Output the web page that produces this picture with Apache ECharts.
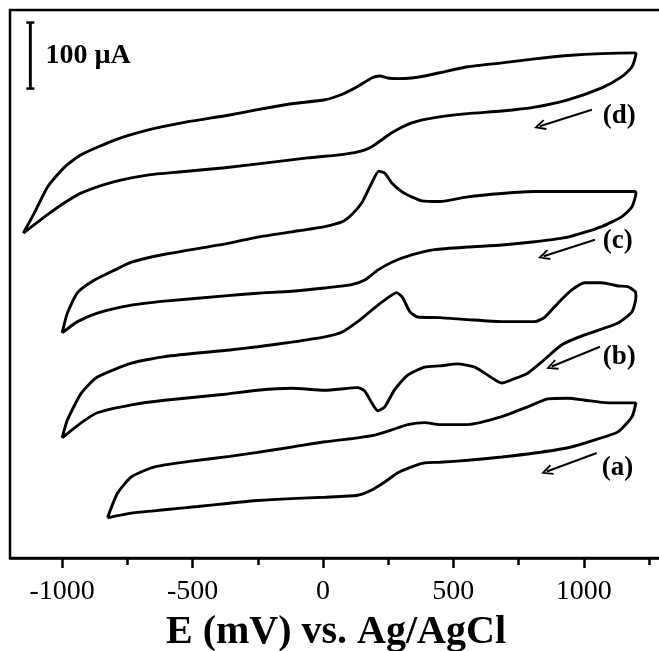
<!DOCTYPE html>
<html>
<head>
<meta charset="utf-8">
<script src="https://cdn.jsdelivr.net/npm/echarts@6/dist/echarts.min.js"></script>
<style>html,body{margin:0;padding:0;background:#fff;}#c{width:659px;height:651px;}</style>
</head>
<body>
<div id="c"></div>
<script>
// Potential (mV) and current (µA, curves offset vertically) for each CV loop
const E_a = [-826,-788,-734,-646,-519,-358,-251,-120,7,133,198,264,325,390,448,555,686,785,862,939,1004,1092,1169,1200,
             1185,1131,1043,939,812,686,555,448,390,340,287,237,187,133,7,-120,-251,-358,-481,-607,-734,-826];
const I_a = [61,98,123,138,146,154,160,168,176,182,186,194,202,205,202,202,214,229,241,242,239,235,235,235,
             214,191,179,167,159,153,148,145,144,138,129,115,103,95,92,90,87,83,78,73,68,61];

const E_b = [-1000,-980,-926,-865,-734,-607,-358,-251,-120,7,72,133,198,248,283,306,333,363,448,555,686,812,851,901,954,1004,1069,1131,1169,1198,1200,
             1185,1131,1004,916,839,785,724,686,659,620,582,517,448,390,325,275,237,210,187,160,133,7,-120,-251,-377,-607,-734,-865,-926,-1000];
const I_b = [182,209,250,274,295,305,315,320,327,335,342,358,379,394,402,394,373,365,364,361,358,358,365,386,406,417,417,412,411,403,395,
             373,356,338,323,297,280,270,265,270,280,289,294,291,289,277,255,229,223,235,253,258,254,257,254,248,239,232,220,205,182];

const E_c = [-1000,-980,-941,-876,-799,-734,-607,-358,-251,-120,7,72,110,149,187,214,237,264,302,340,379,448,555,686,812,939,1069,1196,1200,
             1185,1146,1069,939,812,686,555,429,340,264,210,160,110,7,-120,-251,-377,-607,-734,-865,-941,-1000];
const I_c = [341,371,402,421,436,448,460,477,486,494,502,509,520,538,568,586,583,568,555,547,541,540,547,552,555,555,555,555,553,
             532,517,502,486,479,474,471,467,459,448,436,421,414,409,404,401,397,389,383,371,358,341];

const E_d = [-1149,-1106,-1056,-991,-926,-799,-673,-542,-358,-251,-120,7,72,133,187,218,248,287,340,390,448,555,686,812,939,1069,1196,1200,
             1185,1146,1069,939,812,686,555,429,340,264,187,133,72,-59,-185,-377,-542,-673,-799,-926,-991,-1056,-1149];
const I_d = [492,523,562,592,611,633,648,659,671,679,688,694,702,714,727,730,727,726,727,730,735,744,750,756,761,764,765,764,
             744,729,712,694,683,677,673,667,659,644,623,615,611,606,600,591,585,580,570,553,538,520,492];

// curve labels and scan-direction arrows (data units)
const curveLabels = ['(a)', '(b)', '(c)', '(d)'];
const labelE = [1069, 1073, 1073, 1073];
const labelI = [136, 305, 480, 670];
const arrowFromE = [1050, 1062, 1043, 1031];
const arrowFromI = [159, 320, 482, 679];
const arrowToE = [858, 877, 846, 831];
const arrowToI = [131, 290, 457, 654];

// scale bar: 100 µA
const scaleBarE = -1122;
const scaleBarI = [711, 811];
const scaleBarText = '100 µA';
const scaleTextE = -1064, scaleTextI = 761;

// x axis ticks
const majorTicks = [-1000, -500, 0, 500, 1000];
const minorTicks = [-750, -250, 250, 750, 1250];
const xTitle = 'E (mV) vs. Ag/AgCl';

const serif = "'Liberation Serif','Times New Roman',serif";
const zip = (e, i) => e.map((v, k) => [v, i[k]]);

const curveStyle = {
  type: 'line', showSymbol: false, smooth: 0.2, silent: true,
  lineStyle: { color: '#000', width: 2.9 }, animation: false
};
const textStyle = {
  show: true, position: 'inside', align: 'left', verticalAlign: 'middle',
  formatter: p => p.value[2], color: '#000', fontSize: 27, fontWeight: 'bold',
  fontFamily: serif, textBorderWidth: 0, textShadowBlur: 0, opacity: 1
};

const chart = echarts.init(document.getElementById('c'), null, { renderer: 'canvas' });
chart.setOption({
  animation: false,
  backgroundColor: '#fff',
  grid: { left: 10, top: 10, right: -3, bottom: 93, outerBoundsMode: 'none', containLabel: false,
    show: true, borderColor: '#000', borderWidth: 2.5, backgroundColor: 'transparent' },
  xAxis: [{
    type: 'value', min: -1200, max: 1300, position: 'bottom',
    axisLine: { show: true, onZero: false, lineStyle: { color: '#000', width: 2.5 } },
    axisTick: { show: true, inside: false, length: 10, customValues: majorTicks, lineStyle: { color: '#000', width: 2.5 } },
    axisLabel: { show: true, customValues: majorTicks, margin: 20, color: '#000', fontSize: 28, fontFamily: serif,
      formatter: v => String(v) },
    splitLine: { show: false },
    name: xTitle, nameLocation: 'middle', nameGap: 55,
    nameTextStyle: { color: '#000', fontSize: 40, fontWeight: 'bold', fontFamily: serif }
  }, {
    type: 'value', min: -1200, max: 1300, position: 'bottom',
    axisLine: { show: false, onZero: false },
    axisTick: { show: true, inside: false, length: 7, customValues: minorTicks, lineStyle: { color: '#000', width: 2.5 } },
    axisLabel: { show: false },
    splitLine: { show: false }
  }],
  yAxis: { type: 'value', min: 0, max: 830, show: false },
  series: [
    Object.assign({ data: zip(E_a, I_a) }, curveStyle),
    Object.assign({ data: zip(E_b, I_b) }, curveStyle),
    Object.assign({ data: zip(E_c, I_c) }, curveStyle),
    Object.assign({ data: zip(E_d, I_d) }, curveStyle),
    {
      type: 'line', silent: true, animation: false,
      data: scaleBarI.map(v => [scaleBarE, v]),
      symbol: 'rect', symbolSize: [8, 2.5], showSymbol: true,
      itemStyle: { color: '#000', opacity: 1 },
      lineStyle: { color: '#000', width: 2.9 }
    },
    {
      type: 'scatter', silent: true, animation: false,
      data: [[scaleTextE, scaleTextI, scaleBarText]],
      symbolSize: 0, itemStyle: { color: '#000', opacity: 1 },
      label: Object.assign({}, textStyle, { fontSize: 28 })
    },
    {
      type: 'scatter', silent: true, animation: false,
      data: curveLabels.map((t, k) => [labelE[k], labelI[k], t]),
      symbolSize: 0, itemStyle: { color: '#000', opacity: 1 },
      label: textStyle,
      markLine: {
        silent: true, animation: false,
        symbol: ['none', 'path://M5,0 L10,11 L8.4,11.8 L5,3.8 L1.6,11.8 L0,11 Z'],
        symbolSize: [11, 12],
        label: { show: false },
        itemStyle: { color: '#000', opacity: 1 },
        lineStyle: { color: '#000', width: 2, type: 'solid', opacity: 1 },
        data: curveLabels.map((t, k) => [
          { coord: [arrowFromE[k], arrowFromI[k]] },
          { coord: [arrowToE[k], arrowToI[k]] }
        ])
      }
    }
  ]
});
</script>
</body>
</html>
